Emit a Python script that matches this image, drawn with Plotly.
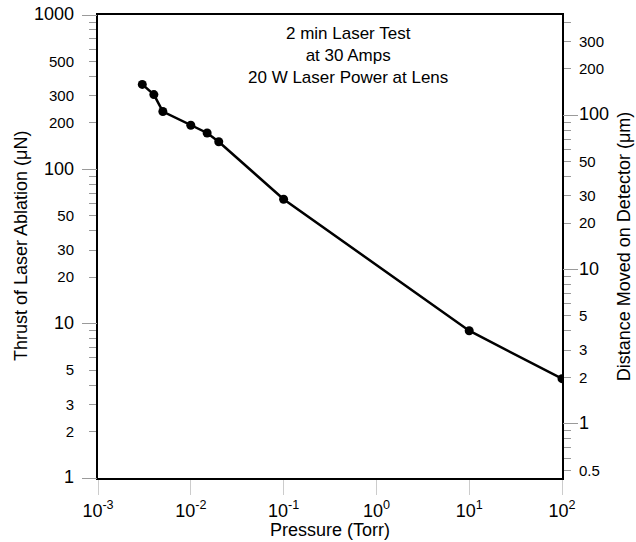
import plotly.graph_objects as go

# ---- data ----
pressure = [0.003, 0.004, 0.005, 0.01, 0.015, 0.02, 0.1, 10, 100]      # Torr
thrust = [355, 305, 237, 193, 172, 151, 64, 9.0, 4.4]                  # uN

x_tickvals = [1e-3, 1e-2, 1e-1, 1e0, 1e1, 1e2]
x_ticktext = ["10<sup>-3</sup>", "10<sup>-2</sup>", "10<sup>-1</sup>",
              "10<sup>0</sup>", "10<sup>1</sup>", "10<sup>2</sup>"]

left_labels = [1, 2, 3, 5, 10, 20, 30, 50, 100, 200, 300, 500, 1000]
left_major = [1, 10, 100, 1000]
left_minor = [4, 6, 7, 8, 9, 40, 60, 70, 80, 90, 400, 600, 700, 800, 900]

right_labels = [0.5, 1, 2, 3, 5, 10, 20, 30, 50, 100, 200, 300]
right_major = [1, 10, 100]
right_minor = [0.6, 0.7, 0.8, 0.9, 4, 6, 7, 8, 9, 40, 60, 70, 80, 90, 400]

left_range = [0, 3]            # log10 units
right_range = [-0.351, 2.649]  # log10 units (detector distance scale)

annotation_text = "2 min Laser Test<br>at 30 Amps<br>20 W Laser Power at Lens"
x_title = "Pressure (Torr)"
y_title = "Thrust of Laser Ablation (μN)"
y2_title = "Distance Moved on Detector (μm)"

FONT = "Liberation Sans, Arial, sans-serif"
TICKGRAY = "#9a9a9a"


def fmt(v):
    return "%g" % v


def label_text(vals, majors):
    out = []
    for v in vals:
        size = 18 if v in majors else 15
        out.append('<span style="font-size:%dpx">%s</span>' % (size, fmt(v)))
    return out


fig = go.Figure()
fig.add_trace(go.Scatter(
    x=pressure, y=thrust, mode="lines+markers",
    line=dict(color="black", width=2.5),
    marker=dict(color="black", size=9),
    showlegend=False, hoverinfo="x+y",
))
# empty traces so the extra axes are drawn
for ya in ["y2", "y3", "y4"]:
    fig.add_trace(go.Scatter(x=[], y=[], yaxis=ya, showlegend=False, hoverinfo="skip"))

common = dict(showgrid=False, zeroline=False, automargin=False)

fig.update_layout(
    width=636, height=542,
    margin=dict(l=98, r=74, t=15, b=64, autoexpand=False),
    paper_bgcolor="white", plot_bgcolor="white",
    font=dict(family=FONT, color="black", size=15),
    xaxis=dict(
        type="log", range=[-3, 2],
        tickmode="array", tickvals=x_tickvals, ticktext=x_ticktext,
        ticks="outside", ticklen=15, tickcolor="#cccccc", tickwidth=1,
        tickfont=dict(size=18), ticklabeloverflow="allow",
        showline=True, linecolor="black", linewidth=2, mirror=True,
        **common,
    ),
    yaxis=dict(
        type="log", range=left_range,
        tickmode="array", tickvals=left_labels,
        ticktext=label_text(left_labels, left_major),
        ticks="outside", ticklen=7, tickcolor=TICKGRAY, tickwidth=1,
        ticklabelstandoff=12, ticklabeloverflow="allow",
        minor=dict(tickmode="array", tickvals=left_minor, ticks="outside",
                   ticklen=7, tickcolor=TICKGRAY, tickwidth=1, showgrid=False),
        showline=True, linecolor="black", linewidth=2,
        **common,
    ),
    yaxis2=dict(
        type="log", range=right_range, overlaying="y", side="right",
        tickmode="array", tickvals=right_labels,
        ticktext=label_text(right_labels, right_major),
        ticks="outside", ticklen=7, tickcolor=TICKGRAY, tickwidth=1,
        ticklabelstandoff=5, ticklabeloverflow="allow",
        minor=dict(tickmode="array", tickvals=right_minor, ticks="outside",
                   ticklen=7, tickcolor=TICKGRAY, tickwidth=1, showgrid=False),
        showline=True, linecolor="black", linewidth=2,
        **common,
    ),
    yaxis3=dict(
        type="log", range=left_range, overlaying="y", side="left",
        tickmode="array", tickvals=left_major, showticklabels=False,
        ticks="outside", ticklen=15, tickcolor=TICKGRAY, tickwidth=1,
        showline=False, **common,
    ),
    yaxis4=dict(
        type="log", range=right_range, overlaying="y", side="right",
        tickmode="array", tickvals=right_major, showticklabels=False,
        ticks="outside", ticklen=15, tickcolor=TICKGRAY, tickwidth=1,
        showline=False, **common,
    ),
    annotations=[
        dict(text=annotation_text, xref="paper", yref="paper",
             x=0.539, y=0.985, xanchor="center", yanchor="top",
             showarrow=False, align="center", font=dict(size=17)),
        dict(text=x_title, xref="paper", yref="paper",
             x=0.5, y=-0.112, xanchor="center", yanchor="middle",
             showarrow=False, font=dict(size=18)),
        dict(text=y_title, xref="paper", yref="paper",
             x=-0.167, y=0.5, xanchor="center", yanchor="middle",
             textangle=-90, showarrow=False, font=dict(size=18)),
        dict(text=y2_title, xref="paper", yref="paper",
             x=1.133, y=0.5, xanchor="center", yanchor="middle",
             textangle=-90, showarrow=False, font=dict(size=18)),
    ],
)

# remove the browser's default 8px body margin so the figure fills the window
fig.write_html("out.html", config={"displayModeBar": False},
               post_script="document.body.style.margin='0';")
